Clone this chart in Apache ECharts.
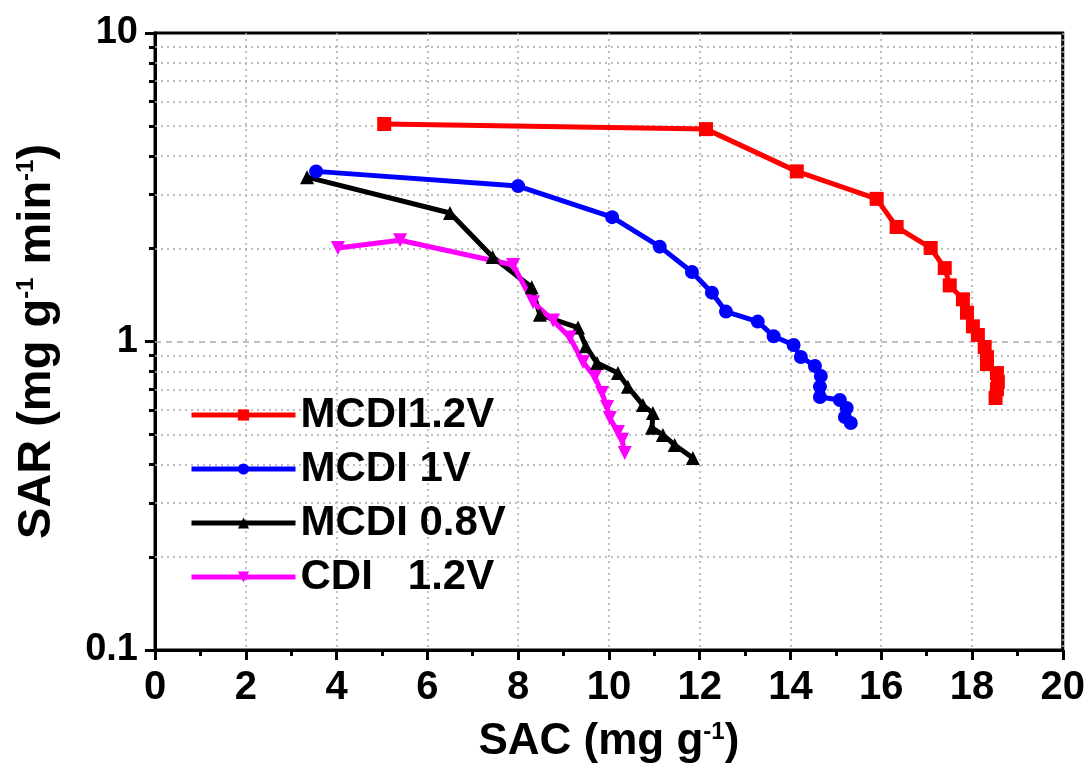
<!DOCTYPE html>
<html>
<head>
<meta charset="utf-8">
<script src="https://cdn.jsdelivr.net/npm/echarts@6/dist/echarts.min.js"></script>
<style>
  html, body { margin: 0; padding: 0; background: #fff; }
  #chart { width: 1088px; height: 774px; }
</style>
</head>
<body>
<div id="chart"></div>
<script>
// SAC (x) / SAR (y) pairs
var mcdi12 = [[5.05,5.07],[12.14,4.88],[14.14,3.56],[15.90,2.90],[16.34,2.35],[17.09,2.01],[17.40,1.73],[17.51,1.52],
  [17.80,1.37],[17.89,1.24],[18.02,1.12],[18.13,1.05],[18.28,0.96],[18.33,0.89],[18.33,0.845],[18.55,0.79],
  [18.57,0.74],[18.55,0.70],[18.52,0.656]];
var mcdi1 = [[3.55,3.56],[8.0,3.19],[10.07,2.53],[11.12,2.03],[11.83,1.68],[12.27,1.44],[12.58,1.25],[13.28,1.16],
  [13.63,1.04],[14.07,0.974],[14.23,0.891],[14.54,0.833],[14.67,0.773],[14.65,0.713],[14.65,0.661],[15.09,0.646],
  [15.24,0.609],[15.20,0.569],[15.33,0.544]];
var mcdi08 = [[3.35,3.41],[6.5,2.61],[7.44,1.88],[8.30,1.50],[8.48,1.22],[9.32,1.11],[9.49,0.966],[9.74,0.851],
  [10.20,0.79],[10.42,0.713],[10.75,0.622],[10.97,0.586],[10.95,0.525],[11.19,0.498],[11.45,0.462],[11.85,0.419]];
var cdi12 = [[4.03,2.01],[5.40,2.13],[7.89,1.77],[8.33,1.34],[8.77,1.17],[9.14,1.03],[9.43,0.858],[9.69,0.767],
  [9.85,0.681],[9.96,0.613],[10.02,0.565],[10.2,0.509],[10.29,0.48],[10.35,0.435]];

var seriesNames = ['MCDI1.2V', 'MCDI 1V', 'MCDI 0.8V', 'CDI   1.2V'];
var yMajor = [0.1, 1, 10];
var yMinor = [0.2,0.3,0.4,0.5,0.6,0.7,0.8,0.9,2,3,4,5,6,7,8,9];

var chart = echarts.init(document.getElementById('chart'));

var font = 'Liberation Sans, Arial, sans-serif';
var narrow = 'Liberation Sans Narrow, Liberation Sans, Arial, sans-serif';

// grid lines at log minor values
var gridLines = yMinor.map(function (v) {
    return { yAxis: v, lineStyle: { type: [2, 4], color: '#aaa', width: 1.5 } };
});
gridLines.push({ yAxis: 1, lineStyle: { type: [6, 5], color: '#aaa', width: 1.5 } });

function mk(name, data, color, symbol, rotate, extra) {
    var s = {
        name: name,
        type: 'line',
        data: data,
        symbol: symbol,
        symbolSize: 14,
        symbolRotate: rotate,
        showAllSymbol: true,
        lineStyle: { width: 5, color: color },
        itemStyle: { color: color },
        z: 3
    };
    if (extra) s.markLine = extra;
    return s;
}

var supStyle = { fontSize: 24, fontWeight: 'bold', color: '#000', fontFamily: font, verticalAlign: 'top', padding: [0, 0, 20, 0] };

var option = {
    animation: false,
    backgroundColor: '#fff',
    grid: {
        left: 155, right: 25, top: 33, bottom: 124,
        show: true, borderColor: '#000', borderWidth: 3
    },
    legend: {
        orient: 'vertical',
        left: 184, top: 389,
        itemWidth: 104, itemHeight: 14,
        itemGap: 12,
        data: seriesNames,
        lineStyle: { width: 5 },
        textStyle: { fontSize: 42, fontWeight: 'bold', color: '#000', fontFamily: font, lineHeight: 36 }
    },
    xAxis: {
        type: 'value',
        min: 0, max: 20, interval: 2,
        name: 'SAC (mg g{sup|-1})',
        nameLocation: 'middle',
        nameGap: 70,
        nameTextStyle: {
            fontSize: 44, fontWeight: 'bold', color: '#000', fontFamily: font,
            rich: { sup: supStyle }
        },
        axisLine: { lineStyle: { color: '#000', width: 3 } },
        axisTick: { length: 10, lineStyle: { width: 3, color: '#000' } },
        minorTick: { show: true, splitNumber: 2, length: 6, lineStyle: { width: 3, color: '#000' } },
        axisLabel: { fontSize: 40, fontWeight: 'bold', color: '#000', fontFamily: narrow, margin: 18 },
        splitLine: { show: true, lineStyle: { type: [2, 4], color: '#aaa', width: 1.5 } }
    },
    yAxis: [{
        type: 'log',
        logBase: 10,
        min: 0.1, max: 10,
        name: 'SAR (mg g{sup|-1} min{sup|-1})',
        nameLocation: 'middle',
        nameGap: 94,
        nameTextStyle: {
            fontSize: 47, fontWeight: 'bold', color: '#000', fontFamily: font,
            rich: { sup: supStyle }
        },
        axisLine: { lineStyle: { color: '#000', width: 3 } },
        axisTick: { length: 10, lineStyle: { width: 3, color: '#000' } },
        axisLabel: {
            fontSize: 38, fontWeight: 'bold', color: '#000', fontFamily: font, margin: 17,
            customValues: yMajor,
            formatter: function (v) { return String(+v.toPrecision(3)); }
        },
        splitLine: { show: false }
    }, {
        type: 'log',
        logBase: 10,
        min: 0.1, max: 10,
        position: 'left',
        axisLine: { show: true, lineStyle: { color: '#000', width: 3 } },
        axisTick: { show: true, length: 6, customValues: yMinor, lineStyle: { width: 3, color: '#000' } },
        axisLabel: { show: false },
        splitLine: { show: false }
    }],
    series: [
        mk(seriesNames[0], mcdi12, '#ff0000', 'rect', 0, {
            silent: true, symbol: 'none', z: 1,
            label: { show: false },
            data: gridLines
        }),
        mk(seriesNames[1], mcdi1, '#0000ff', 'circle', 0),
        mk(seriesNames[2], mcdi08, '#000000', 'triangle', 0),
        mk(seriesNames[3], cdi12, '#ff00ff', 'triangle', 180)
    ]
};

chart.setOption(option);
</script>
</body>
</html>
